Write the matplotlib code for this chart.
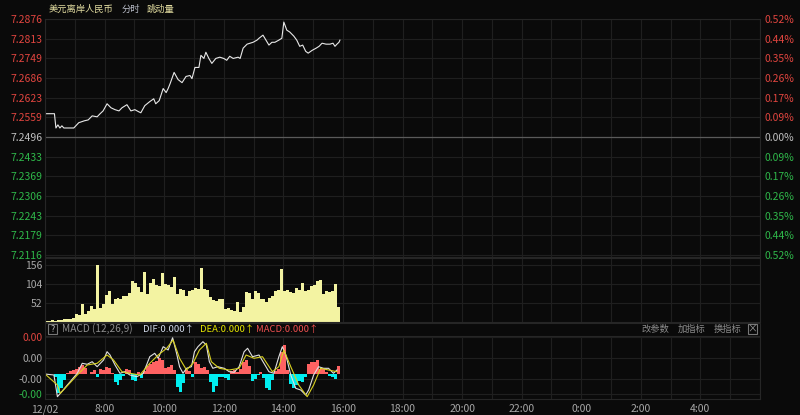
import numpy as np
import matplotlib.pyplot as plt
from matplotlib.patches import Rectangle

plt.rcParams['font.family'] = ['Noto Sans CJK SC', 'DejaVu Sans']

# price trace: minutes after 6:00 and price
price_min = [0, 19, 22, 26, 30, 34, 38, 58, 68, 79, 87, 95, 105, 111, 117, 125, 133, 141, 149, 155,
             165, 173, 181, 189, 193, 201, 211, 219, 223, 230, 238, 244, 248, 252, 260, 268, 276, 284,
             292, 296, 302, 310, 314, 320, 324, 330, 336, 344, 352, 360, 366, 372, 379, 389, 393, 399,
             407, 413, 419, 427, 431, 439, 445, 451, 457, 463, 471, 477, 481, 487, 493, 501, 507, 513,
             519, 525, 530, 538, 546, 552, 558, 566, 574, 580, 584, 588, 592, 594]
price_val = [7.2571, 7.2571, 7.2525, 7.2535, 7.2525, 7.2532, 7.2525, 7.2525, 7.2542, 7.2548, 7.2551,
             7.2564, 7.2561, 7.2571, 7.2580, 7.2603, 7.2590, 7.2584, 7.2580, 7.2590, 7.2600, 7.2580,
             7.2584, 7.2577, 7.2574, 7.2597, 7.2610, 7.2619, 7.2603, 7.2613, 7.2652, 7.2639, 7.2652,
             7.2668, 7.2704, 7.2681, 7.2671, 7.2691, 7.2694, 7.2684, 7.2720, 7.2720, 7.2759, 7.2749,
             7.2769, 7.2749, 7.2733, 7.2749, 7.2753, 7.2749, 7.2743, 7.2756, 7.2749, 7.2753, 7.2749,
             7.2782, 7.2795, 7.2798, 7.2801, 7.2808, 7.2814, 7.2824, 7.2808, 7.2792, 7.2801, 7.2801,
             7.2808, 7.2814, 7.2866, 7.2840, 7.2834, 7.2821, 7.2808, 7.2788, 7.2792, 7.2772, 7.2766,
             7.2775, 7.2782, 7.2788, 7.2798, 7.2795, 7.2795, 7.2798, 7.2788, 7.2795, 7.2801, 7.2808]
prev_close = 7.2496

# volume and MACD histogram, one value per 6 minutes from 6:00
volume = [3, 4, 5, 4, 6, 5, 8, 7, 9, 10, 22, 18, 48, 22, 30, 44, 36, 156, 38, 50,
          75, 86, 50, 62, 66, 64, 70, 72, 80, 112, 106, 95, 82, 136, 78, 108, 118, 100, 98, 134,
          104, 100, 96, 122, 78, 90, 88, 72, 86, 88, 92, 90, 148, 90, 88, 68, 60, 58, 64, 62,
          36, 38, 32, 30, 54, 27, 42, 82, 80, 64, 86, 80, 64, 62, 55, 66, 70, 86, 88, 146,
          86, 88, 82, 80, 92, 88, 108, 86, 88, 98, 100, 112, 116, 78, 84, 82, 84, 104, 42]
macd_hist = [0, 0, 0, -3, -19, -14, -6, 1, 3, 4, 5, 7, 9, 6, 0, 2, 4, -3, 5, 4,
             7, 6, 1, -8, -11, -6, -2, 5, 4, -6, -7, 2, -4, 3, 8, 10, 12, 13, 16, 14,
             6, 7, 9, 4, -13, -18, -9, 4, 3, -3, 12, 10, 6, 7, 4, -8, -18, -12, -3, -3,
             -4, -6, 3, 4, 2, 5, 12, 14, 8, -7, -5, -1, 2, -4, -14, -16, -6, 3, 5, 22,
             29, 4, -10, -14, -11, -7, -8, -3, 10, 12, 12, 14, 5, 5, 2, -2, -3, -5, 8]

dif_min = [0, 18, 25, 31, 45, 65, 75, 85, 95, 105, 118, 125, 131, 141, 151, 161, 171, 185, 198, 211,
           221, 228, 238, 248, 257, 265, 271, 278, 285, 295, 301, 308, 318, 325, 331, 338, 348, 361,
           371, 381, 391, 401, 408, 418, 431, 441, 451, 461, 471, 478, 485, 495, 505, 515, 525, 531,
           541, 551, 561, 571, 581, 588]
dif_val = [0, -1, -22.7, -19.3, -11, 0.7, 10.7, 9.7, 12.3, 7.3, 14, 22.3, 19, 9, 0.7, 2.3, -1, -2.7,
           0.7, 17.3, 20.7, 15.7, 27.3, 24, 36.3, 20.7, 7.3, 0.7, 5.7, 7.3, 22.3, 27.3, 32.3, 29, 12.3,
           5.7, 7.3, 5.7, 2.3, 1.7, 7.3, 22.3, 25.7, 17.3, 19, 10.7, 2.3, 0.7, 17.3, 27.3, 19, -1,
           -14.3, -16, -21, -16, -1, 7.3, 5.7, 5.7, 0.7, 4]
dea_min = [0, 25, 31, 65, 85, 105, 125, 138, 155, 171, 191, 211, 228, 245, 258, 271, 285, 298, 311,
           325, 335, 351, 371, 391, 405, 421, 438, 458, 471, 481, 495, 511, 528, 541, 555, 571, 588]
dea_val = [0, -11, -19.3, -1, 9, 10.7, 19, 14, 2.3, 0.7, -1, 10.7, 19, 25.7, 34, 15.7, 4, 10.7, 24,
           30.7, 12.3, 5.7, 4, 5.7, 19, 15.7, 17.3, 2.3, 7.3, 24, 7.3, -11, -22.7, -11, 5.7, 4, 2.3]

price_ticks = [7.2876, 7.2813, 7.2749, 7.2686, 7.2623, 7.2559, 7.2496, 7.2433, 7.2369, 7.2306,
               7.2243, 7.2179, 7.2116]
pct_labels = ['0.52%', '0.44%', '0.35%', '0.26%', '0.17%', '0.09%', '0.00%', '0.09%', '0.17%',
              '0.26%', '0.35%', '0.44%', '0.52%']
vol_ticks = [156, 104, 52]
macd_ticks = [37, 16, -5, -20]
macd_labels = ['0.00', '0.00', '-0.00', '-0.00']
time_ticks = [6, 8, 10, 12, 14, 16, 18, 20, 22, 24, 26, 28]
time_labels = ['12/02', '8:00', '10:00', '12:00', '14:00', '16:00', '18:00', '20:00', '22:00',
               '0:00', '2:00', '4:00']

BG = '#0a0a0a'
GRID = '#1f1f1f'
RED = '#e0453f'
GREEN = '#2fb84a'
GRAY = '#a8a8a8'
W, H = 800, 415


def rect(x0, y0, x1, y1):
    return [x0 / W, 1 - y1 / H, (x1 - x0) / W, (y1 - y0) / H]


def style(ax):
    ax.set_facecolor(BG)
    for s in ax.spines.values():
        s.set_color('#262626')
        s.set_linewidth(0.8)
    ax.tick_params(length=0, labelsize=7.5, pad=2)
    ax.set_xlim(6, 30)
    ax.set_xticks(np.arange(6, 31, 1))
    ax.grid(True, color=GRID, linewidth=0.8)
    ax.set_axisbelow(True)


fig = plt.figure(figsize=(8, 4.15), dpi=100, facecolor=BG)

# price panel
ax = fig.add_axes(rect(45, 19, 760, 257))
style(ax)
ax.set_ylim(7.21095, 7.2876)
ax.set_yticks(price_ticks)
ax.set_yticklabels(['%.4f' % v for v in price_ticks])
ax.set_xticklabels([])
for lab, v in zip(ax.get_yticklabels(), price_ticks):
    lab.set_color(RED if v > prev_close + 1e-6 else (GREEN if v < prev_close - 1e-6 else '#c0c0c0'))
ax.axhline(prev_close, color='#5a5a5a', linewidth=0.9)
t = 6 + np.array(price_min) / 60.0
ax.plot(t, price_val, color='#e8e8e8', linewidth=0.8)

ax2 = ax.twinx()
ax2.set_ylim(ax.get_ylim())
ax2.set_yticks(price_ticks)
ax2.set_yticklabels(pct_labels)
ax2.tick_params(length=0, labelsize=7.5, pad=3)
for s in ax2.spines.values():
    s.set_visible(False)
for lab, v in zip(ax2.get_yticklabels(), price_ticks):
    lab.set_color(RED if v > prev_close + 1e-6 else (GREEN if v < prev_close - 1e-6 else '#c0c0c0'))

fig.text(49 / W, 1 - 9 / H, '美元离岸人民币', color='#e2dca0', fontsize=6.7, va='center')
fig.text(122 / W, 1 - 9 / H, '分时', color='#b8bcc8', fontsize=6.7, va='center')
fig.text(147 / W, 1 - 9 / H, '跳动量', color='#e2dca0', fontsize=6.7, va='center')

# volume panel
axv = fig.add_axes(rect(45, 258, 760, 322))
style(axv)
axv.set_ylim(0, 175.2)
axv.set_yticks(vol_ticks)
axv.set_yticklabels([str(v) for v in vol_ticks], color=GRAY)
axv.set_xticklabels([])
tb = 6 + np.arange(len(volume)) * 0.1
axv.bar(tb, volume, width=0.1, align='edge', color='#f3f3a2', edgecolor='none')

# MACD header bar
fig.add_artist(Rectangle((45 / W, 1 - 336 / H), 715 / W, 13 / H, transform=fig.transFigure,
                         facecolor=BG, edgecolor='#262626', linewidth=0.8))
fig.add_artist(Rectangle((48 / W, 1 - 334 / H), 9 / W, 10 / H, transform=fig.transFigure,
                         facecolor='none', edgecolor='#777777', linewidth=0.8))
hy = 1 - 329 / H
fig.text(52.5 / W, hy, '?', color='#bbbbbb', fontsize=6.5, va='center', ha='center')
fig.text(62 / W, hy, 'MACD (12,26,9)', color='#8c8c8c', fontsize=7.3, va='center')
fig.text(143 / W, hy, 'DIF:0.000↑', color='#d0d8e8', fontsize=6.8, va='center')
fig.text(200 / W, hy, 'DEA:0.000↑', color='#e6e600', fontsize=6.8, va='center')
fig.text(256 / W, hy, 'MACD:0.000↑', color='#f05050', fontsize=6.8, va='center')
fig.text(642 / W, hy, '改参数', color='#8c8c8c', fontsize=6.7, va='center')
fig.text(678 / W, hy, '加指标', color='#8c8c8c', fontsize=6.7, va='center')
fig.text(714 / W, hy, '换指标', color='#8c8c8c', fontsize=6.7, va='center')
fig.add_artist(Rectangle((748 / W, 1 - 334 / H), 9 / W, 10 / H, transform=fig.transFigure,
                         facecolor='none', edgecolor='#777777', linewidth=0.8))
fig.text(752.5 / W, hy, '×', color='#999999', fontsize=7, va='center', ha='center')

# MACD panel
axm = fig.add_axes(rect(45, 336, 760, 399))
style(axm)
axm.set_ylim(-25, 38)
axm.set_yticks(macd_ticks)
axm.set_yticklabels(macd_labels)
for lab, c in zip(axm.get_yticklabels(), [RED, GRAY, GRAY, GREEN]):
    lab.set_color(c)
hist = np.array(macd_hist)
cols = ['#ff6262' if v >= 0 else '#00eef0' for v in hist]
axm.bar(tb, hist, width=0.1, align='edge', color=cols, edgecolor='none')
axm.plot(6 + np.array(dif_min) / 60.0, dif_val, color='#e0e0e0', linewidth=0.8)
axm.plot(6 + np.array(dea_min) / 60.0, dea_val, color='#d8d020', linewidth=0.8)
axm.set_xticklabels([])
for tt, lab in zip(time_ticks, time_labels):
    axm.text(tt, -0.08, lab, transform=axm.get_xaxis_transform(), ha='center', va='top',
             color=GRAY, fontsize=7.5)

fig.savefig('out.png', dpi=100, facecolor=BG)
